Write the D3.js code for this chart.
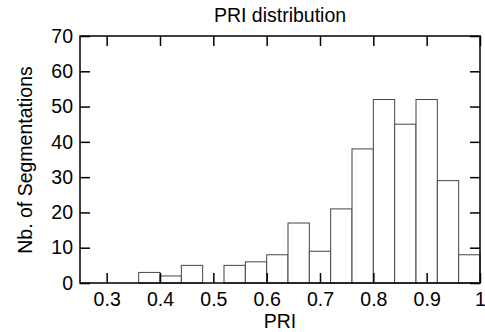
<!DOCTYPE html>
<html>
<head>
<meta charset="utf-8">
<script src="https://cdn.jsdelivr.net/npm/d3@7"></script>
<style>
  body { margin: 0; background: #fff; }
  svg text { font-family: "Liberation Sans", Arial, sans-serif; fill: #000; }
</style>
</head>
<body>
<svg id="chart" width="485" height="332"></svg>
<script>
// histogram bins (lower edge) and counts
var binStarts = [0.36, 0.40, 0.44, 0.48, 0.52, 0.56, 0.60, 0.64, 0.68, 0.72, 0.76, 0.80, 0.84, 0.88, 0.92, 0.96];
var binWidth = 0.04;
var counts = [3, 2, 5, 0, 5, 6, 8, 17, 9, 21, 38, 52, 45, 52, 29, 8];
var xTicks = [0.3, 0.4, 0.5, 0.6, 0.7, 0.8, 0.9, 1];
var yTicks = [0, 10, 20, 30, 40, 50, 60, 70];

var margin = {top: 36, right: 5, bottom: 49, left: 80},
    width = 485,
    height = 332,
    innerW = width - margin.left - margin.right,
    innerH = height - margin.top - margin.bottom,
    fontSize = '19.5px';

var svg = d3.select('#chart');
var g = svg.append('g')
    .attr('transform', 'translate(' + margin.left + ',' + margin.top + ')');

var x = d3.scaleLinear().domain([0.25, 1]).range([0, innerW]);
var y = d3.scaleLinear().domain([0, 70]).range([innerH, 0]);

var data = binStarts.map(function(s, i) { return {x0: s, x1: s + binWidth, n: counts[i]}; });

g.selectAll('.bar')
    .data(data)
  .enter().append('rect')
    .attr('class', 'bar')
    .attr('x', function(d) { return x(d.x0); })
    .attr('y', function(d) { return y(d.n); })
    .attr('width', function(d) { return x(d.x1) - x(d.x0); })
    .attr('height', function(d) { return innerH - y(d.n); })
    .style('fill', 'white')
    .style('stroke', '#444')
    .style('stroke-width', '1px');

var tickLen = 10;

function styleAxis(sel) {
    sel.select('.domain').remove();
    sel.selectAll('line').attr('stroke', '#000').attr('stroke-width', 1.5);
    sel.selectAll('text').style('font-size', fontSize);
}

// bottom and left with labels, ticks pointing inward
g.append('g')
    .attr('transform', 'translate(0,' + innerH + ')')
    .call(d3.axisBottom(x).tickValues(xTicks).tickSizeInner(-tickLen).tickSizeOuter(0)
        .tickPadding(9).tickFormat(d3.format('')))
    .call(styleAxis);

g.append('g')
    .call(d3.axisLeft(y).tickValues(yTicks).tickSizeInner(-tickLen).tickSizeOuter(0))
    .call(styleAxis)
    .selectAll('text').attr('x', -7);

// mirrored ticks on top and right
g.append('g')
    .call(d3.axisTop(x).tickValues(xTicks).tickSizeInner(-tickLen).tickSizeOuter(0).tickFormat(''))
    .call(styleAxis);

g.append('g')
    .attr('transform', 'translate(' + innerW + ',0)')
    .call(d3.axisRight(y).tickValues(yTicks).tickSizeInner(-tickLen).tickSizeOuter(0).tickFormat(''))
    .call(styleAxis);

// frame
g.append('rect')
    .attr('width', innerW)
    .attr('height', innerH)
    .style('fill', 'none')
    .style('stroke', '#000')
    .style('stroke-width', '1.5px');

svg.append('text')
    .attr('x', margin.left + innerW / 2)
    .attr('y', 22)
    .attr('text-anchor', 'middle')
    .style('font-size', fontSize)
    .text('PRI distribution');

svg.append('text')
    .attr('x', margin.left + innerW / 2)
    .attr('y', 328)
    .attr('text-anchor', 'middle')
    .style('font-size', fontSize)
    .text('PRI');

svg.append('text')
    .attr('transform', 'translate(32,' + 160 + ') rotate(-90)')
    .attr('text-anchor', 'middle')
    .style('font-size', fontSize)
    .text('Nb. of Segmentations');
</script>
</body>
</html>
